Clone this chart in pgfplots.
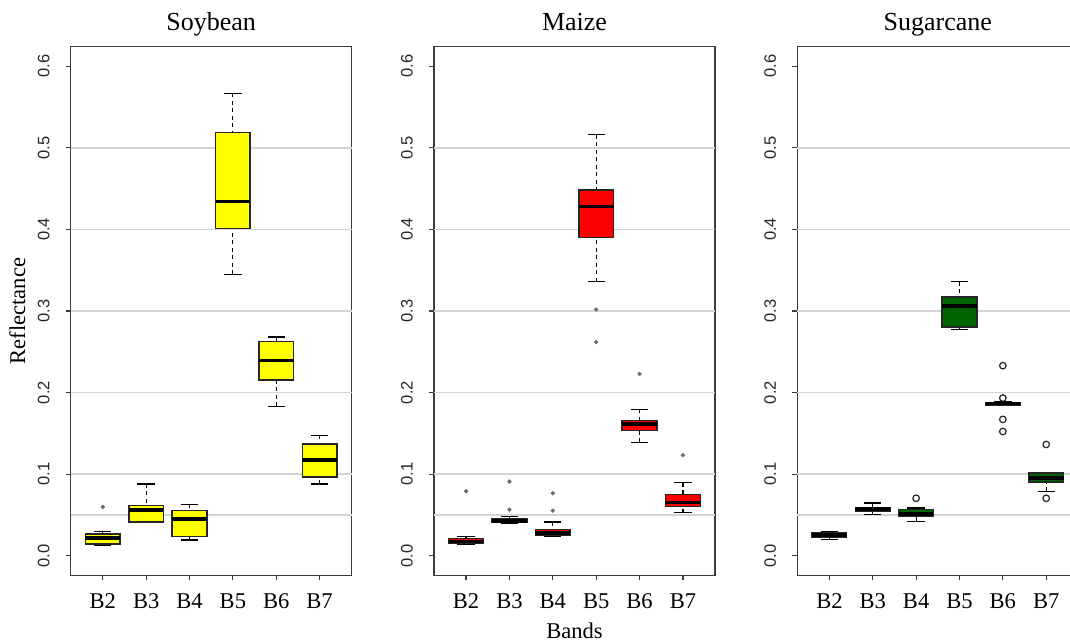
\documentclass[border=0pt]{standalone}
\usepackage{pgfplots}
\pgfplotsset{compat=1.18}
\usepgfplotslibrary{statistics}
\usepackage{fontspec}
\setmainfont{Liberation Serif}
\newfontfamily\arial{Liberation Sans}
\newlength\px
\setlength\px{0.75pt}
\definecolor{syellow}{RGB}{255,255,0}
\definecolor{sred}{RGB}{255,0,0}
\definecolor{sgreen}{RGB}{0,100,0}
\definecolor{spine}{RGB}{60,60,60}
\definecolor{gridc}{RGB}{212,212,212}

\pgfplotsset{
  panel/.style={
    scale only axis, width=281\px, height=528.6\px,
    anchor=south west,
    xmin=0.26, xmax=6.74, ymin=-0.024, ymax=0.624,
    axis line style={draw=spine, line width=1.3\px},
    tick align=outside, major tick length=5\px,
    tick style={draw=spine, line width=1.2\px},
    xtick pos=bottom, ytick pos=left,
    xtick={1,2,3,4,5,6}, xticklabels={B2,B3,B4,B5,B6,B7},
    ytick={0,0.1,0.2,0.3,0.4,0.5,0.6},
    yticklabels={0.0,0.1,0.2,0.3,0.4,0.5,0.6},
    yticklabel style={rotate=90, anchor=south, inner sep=0pt, font=\arial\fontsize{12.4pt}{14pt}\selectfont, text=black!85},
    yticklabel shift=16\px,
    xticklabel style={anchor=north, inner sep=0pt, font=\fontsize{16.9pt}{18pt}\selectfont},
    xticklabel shift=13\px,
    extra y ticks={0.05,0.1,0.2,0.3,0.4,0.5},
    extra y tick labels={},
    extra y tick style={grid=major, major tick length=0pt, major grid style={draw=gridc, line width=1.4\px}},
    title style={at={(0.5,1)}, anchor=base, yshift=8.2\px, font=\fontsize{19.5pt}{21pt}\selectfont},
    clip=false,
    boxplot/draw direction=y,
    boxplot/every median/.style={draw=black, line width=3.6\px},
    boxplot/every whisker/.style={draw=black, line width=1.2\px},
    boxplot/draw/lower whisker/.code={%
      \draw[/pgfplots/boxplot/every whisker/.try, dash pattern=on 4\px off 3.5\px]
        (boxplot cs:\pgfplotsboxplotvalue{lower whisker}) --
        (boxplot cs:\pgfplotsboxplotvalue{lower quartile});
      \draw[/pgfplots/boxplot/every whisker/.try]
        (boxplot whisker cs:\pgfplotsboxplotvalue{lower whisker},0) --
        (boxplot whisker cs:\pgfplotsboxplotvalue{lower whisker},1);
    },
    boxplot/draw/upper whisker/.code={%
      \draw[/pgfplots/boxplot/every whisker/.try, dash pattern=on 4\px off 3.5\px]
        (boxplot cs:\pgfplotsboxplotvalue{upper whisker}) --
        (boxplot cs:\pgfplotsboxplotvalue{upper quartile});
      \draw[/pgfplots/boxplot/every whisker/.try]
        (boxplot whisker cs:\pgfplotsboxplotvalue{upper whisker},0) --
        (boxplot whisker cs:\pgfplotsboxplotvalue{upper whisker},1);
    },
  },
  dotout/.style={only marks, mark=*, mark size=1.9\px, mark options={draw=gray!85!black, fill=gray!85!black}},
  circout/.style={only marks, mark=o, mark size=3.3\px, mark options={draw=black!85, line width=1.2\px}},
}

% pos, lower whisker, lower quartile, median, upper quartile, upper whisker, fill
\newcommand{\bp}[7]{%
  \addplot[boxplot prepared={draw position=#1, lower whisker=#2, lower quartile=#3,
      median=#4, upper quartile=#5, upper whisker=#6, box extend=0.8, whisker extend=0.4},
    boxplot/draw direction=y,
    boxplot/every box/.style={draw=black!85, fill=#7, line width=1.5\px}] coordinates {};%
}

\begin{document}
\begin{tikzpicture}
\useasboundingbox (0,0) rectangle (1070\px,641\px);

% ---------------- Soybean ----------------
\begin{axis}[panel, at={(70.7\px,65.7\px)}, title={Soybean},
  ylabel={Reflectance},
  ylabel style={at={(axis description cs:-0.1626,0.5)}, anchor=base, rotate=0, font=\fontsize{16.9pt}{18pt}\selectfont}]
\bp{1}{0.0130}{0.0143}{0.0217}{0.0266}{0.0295}{syellow}
\bp{2}{0.0414}{0.0414}{0.0561}{0.0614}{0.0880}{syellow}
\bp{3}{0.0193}{0.0233}{0.0450}{0.0553}{0.0630}{syellow}
\bp{4}{0.3448}{0.4013}{0.4340}{0.5189}{0.5670}{syellow}
\bp{5}{0.1830}{0.2154}{0.2391}{0.2625}{0.2682}{syellow}
\bp{6}{0.0880}{0.0962}{0.1175}{0.1372}{0.1478}{syellow}
\addplot[dotout] coordinates {(1,0.0598)};
\end{axis}

% ---------------- Maize ----------------
\begin{axis}[panel, at={(434\px,65.7\px)}, title={Maize},
  xlabel={Bands},
  xlabel style={at={(axis description cs:0.5,-0.1190)}, anchor=base, font=\fontsize{16.9pt}{18pt}\selectfont}]
\bp{1}{0.0143}{0.0148}{0.0176}{0.0209}{0.0238}{sred}
\bp{2}{0.0401}{0.0405}{0.0426}{0.0450}{0.0479}{sred}
\bp{3}{0.0233}{0.0246}{0.0279}{0.0323}{0.0414}{sred}
\bp{4}{0.3358}{0.3898}{0.4279}{0.4484}{0.5160}{sred}
\bp{5}{0.1392}{0.1536}{0.1613}{0.1658}{0.1794}{sred}
\bp{6}{0.0528}{0.0602}{0.0651}{0.0749}{0.0897}{sred}
\addplot[dotout] coordinates {(1,0.0790) (2,0.0565) (2,0.0909) (3,0.0553) (3,0.0766)
  (4,0.3018) (4,0.2620) (5,0.2228) (6,0.1232)};
\end{axis}

% ---------------- Sugarcane ----------------
\begin{axis}[panel, at={(797.3\px,65.7\px)}, title={Sugarcane}]
\bp{1}{0.0201}{0.0229}{0.0254}{0.0278}{0.0295}{sgreen}
\bp{2}{0.0508}{0.0549}{0.0573}{0.0594}{0.0647}{sgreen}
\bp{3}{0.0422}{0.0479}{0.0508}{0.0569}{0.0585}{sgreen}
\bp{4}{0.2772}{0.2805}{0.3063}{0.3170}{0.3358}{sgreen}
\bp{5}{0.1845}{0.1850}{0.1865}{0.1880}{0.1885}{sgreen}
\bp{6}{0.0790}{0.0901}{0.0954}{0.1016}{0.1020}{sgreen}
\addplot[circout] coordinates {(3,0.0704) (5,0.2330) (5,0.1933) (5,0.1671) (5,0.1523)
  (6,0.1364) (6,0.0704)};
\end{axis}
\end{tikzpicture}
\end{document}
